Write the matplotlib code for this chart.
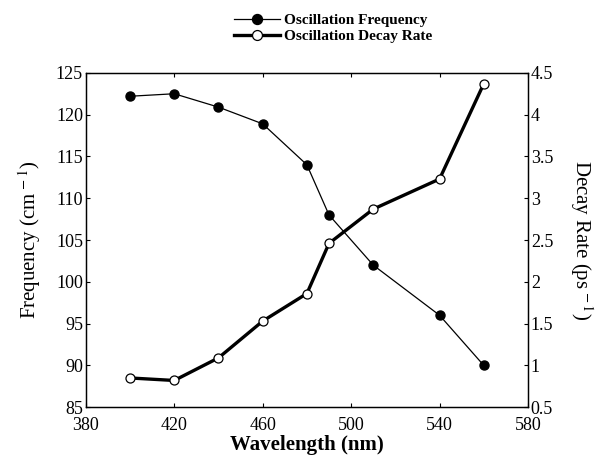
import matplotlib.pyplot as plt

wavelength = [400, 420, 440, 460, 480, 490, 510, 540, 560]
frequency = [122.2, 122.5, 120.9, 118.9, 114.0, 108.0, 102.0, 96.0, 90.0]
decay_rate = [0.85, 0.82, 1.09, 1.53, 1.86, 2.46, 2.87, 3.23, 4.37]

plt.rcParams["font.family"] = ["Liberation Serif", "DejaVu Serif"]
plt.rcParams["mathtext.fontset"] = "stix"

fig = plt.figure(figsize=(6, 4.67), dpi=100)
ax = fig.add_axes([0.143, 0.128, 0.737, 0.716])
ax2 = ax.twinx()

l1, = ax.plot(wavelength, frequency, color="black", lw=0.9, marker="o", ms=6.5,
              mfc="black", mec="black", label="Oscillation Frequency")
l2, = ax2.plot(wavelength, decay_rate, color="black", lw=2.4, marker="o", ms=6.5,
               mfc="white", mec="black", mew=0.9, label="Oscillation Decay Rate")

ax.set_xlim(380, 580)
ax.set_ylim(85, 125)
ax2.set_ylim(0.5, 4.5)
ax.set_xticks(range(380, 581, 40))
ax.set_yticks(range(85, 126, 5))
ax2.set_yticks([0.5, 1, 1.5, 2, 2.5, 3, 3.5, 4, 4.5])
ax2.set_yticklabels(["0.5", "1", "1.5", "2", "2.5", "3", "3.5", "4", "4.5"])

for a in (ax, ax2):
    a.tick_params(direction="in", length=3, labelsize=13, width=0.8, pad=2)
    for s in a.spines.values():
        s.set_linewidth(0.9)
ax.tick_params(axis="x", top=True, pad=7)

ax.set_xlabel("Wavelength (nm)", fontsize=15, fontweight="bold", labelpad=1)
ax.set_ylabel("Frequency (cm$^{\\,-1}$)", fontsize=15, labelpad=9)
ax2.set_ylabel("Decay Rate (ps$^{\\,-1}$)", fontsize=15, rotation=270, labelpad=30)

fig.legend(handles=[l1, l2], loc="upper center", bbox_to_anchor=(0.555, 1.0),
           frameon=False, prop={"size": 11, "weight": "bold"}, handlelength=3.0,
           markerscale=1.1, labelspacing=0.15, handletextpad=0.3)

fig.savefig("out.png", dpi=100)
